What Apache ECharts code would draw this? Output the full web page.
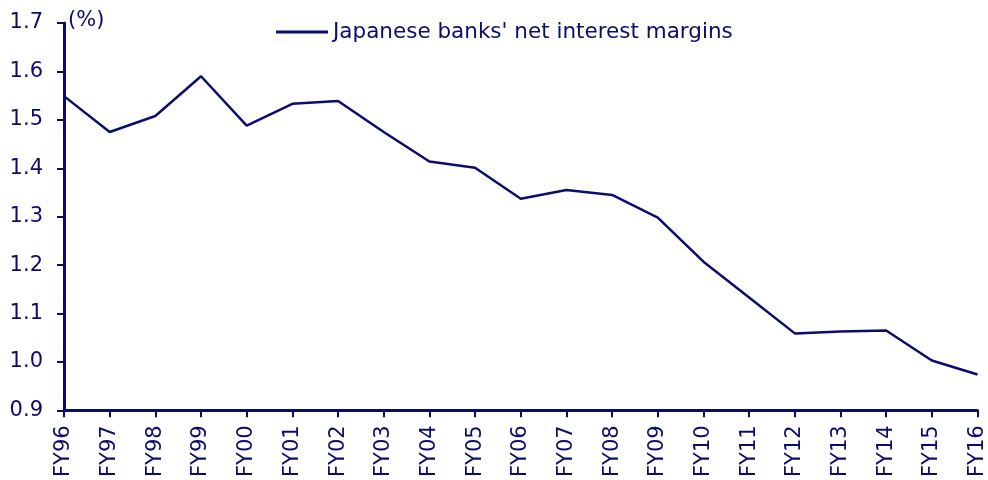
<!DOCTYPE html>
<html><head><meta charset="utf-8">
<script src="https://cdn.jsdelivr.net/npm/echarts@6/dist/echarts.min.js"></script>
<style>html,body{margin:0;padding:0;background:#fff}#c{width:988px;height:480px}</style>
</head><body><div id="c"></div>
<script>
const categories = ['FY96','FY97','FY98','FY99','FY00','FY01','FY02','FY03','FY04','FY05','FY06','FY07','FY08','FY09','FY10','FY11','FY12','FY13','FY14','FY15','FY16'];
const nimValues = [1.549,1.475,1.508,1.590,1.488,1.533,1.539,1.475,1.414,1.401,1.337,1.355,1.345,1.298,1.207,1.133,1.059,1.063,1.065,1.003,0.974];
const seriesName = "Japanese banks' net interest margins";
const yTicks = [0.9,1.0,1.1,1.2,1.3,1.4,1.5,1.6,1.7];
const C = '#0c0c6c';
const F = 'DejaVu Sans';
const chart = echarts.init(document.getElementById('c'));
chart.setOption({
  animation:false,
  textStyle:{fontFamily:F},
  grid:{left:64,right:8,top:23,bottom:69,containLabel:false},
  legend:{show:true,top:16,left:271,itemWidth:52,itemHeight:3,itemGap:6,icon:'rect',
    textStyle:{color:C,fontSize:21.5,fontFamily:F},data:[seriesName]},
  graphic:[{type:'text',left:68,top:10,style:{text:'(%)',fill:C,fontSize:21,fontFamily:F}}],
  xAxis:{type:'category',data:categories,boundaryGap:false,
    axisLine:{lineStyle:{color:C,width:3}},
    axisTick:{show:true,length:7,lineStyle:{color:C,width:2},alignWithLabel:true},
    axisLabel:{rotate:90,color:C,fontSize:21,fontFamily:F,margin:15,interval:0},
    splitLine:{show:false}},
  yAxis:{type:'value',min:0.9,max:1.7,interval:0.1,
    axisLine:{show:true,lineStyle:{color:C,width:3}},
    axisTick:{show:true,length:7,lineStyle:{color:C,width:2}},
    axisLabel:{color:C,fontSize:21,fontFamily:F,margin:21,formatter:v=>v.toFixed(1)},
    splitLine:{show:false}},
  series:[{name:seriesName,type:'line',data:nimValues,symbol:'none',
    lineStyle:{color:C,width:2.5},itemStyle:{color:C}}]
});
</script></body></html>
